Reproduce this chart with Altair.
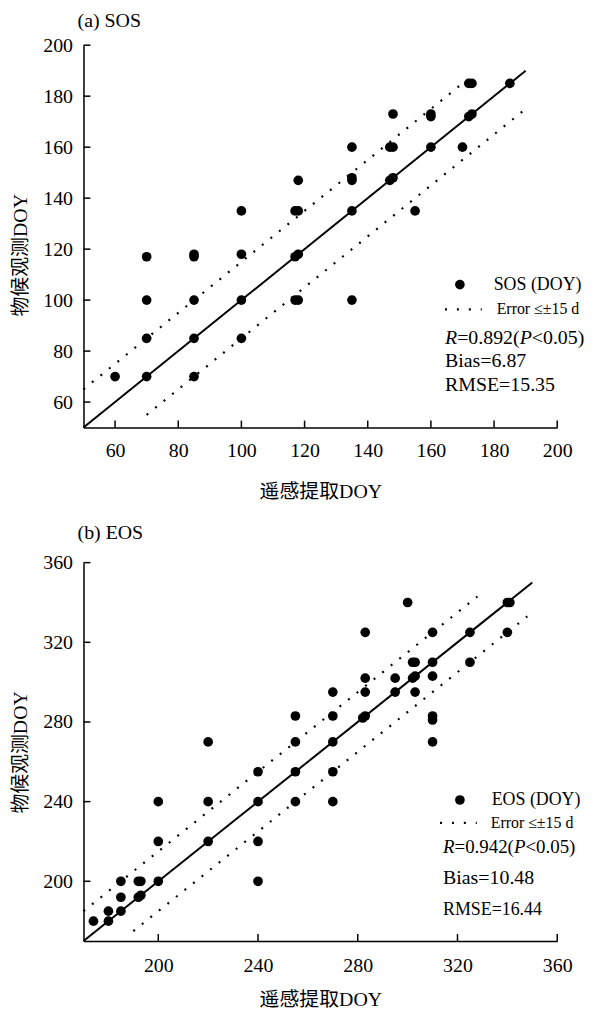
import altair as alt
import pandas as pd

FONT = "Liberation Serif, Times New Roman, Noto Sans CJK SC"

# ---------------- data: (a) SOS ----------------
sos_rs = [60, 70, 70, 70, 70, 85, 85, 85, 85, 85, 100, 100, 100, 100,
          117, 118, 117, 118, 117, 118, 118, 135, 135, 135, 135, 135,
          147, 148, 147, 148, 148, 155, 160, 160, 160, 170, 172, 173,
          172, 173, 185]
sos_obs = [70, 70, 85, 100, 117, 70, 85, 100, 117, 118, 85, 100, 118, 135,
           100, 100, 117, 118, 135, 135, 147, 100, 135, 147, 148, 160,
           147, 148, 160, 160, 173, 135, 160, 172, 173, 160, 172, 173,
           185, 185, 185]
sos_ticks = [60, 80, 100, 120, 140, 160, 180, 200]
sos_domain = [50, 200]
sos_line_x = [50, 190]
sos_line_y = [50, 190]
sos_up_x = [50, 170]
sos_up_y = [65, 185]
sos_lo_x = [70, 190]
sos_lo_y = [55, 175]
sos_stats = {"R": "0.892", "Bias": "6.87", "RMSE": "15.35"}

# ---------------- data: (b) EOS ----------------
eos_rs = [174, 180, 180, 185, 185, 185, 192, 193, 192, 193, 200, 200, 200,
          220, 220, 220, 240, 240, 240, 240, 255, 255, 255, 255,
          270, 270, 270, 270, 270, 282, 283, 283, 283, 283, 295, 295,
          300, 302, 303, 302, 303, 303, 310, 310, 310, 310, 310, 310,
          325, 325, 340, 340, 341]
eos_obs = [180, 180, 185, 185, 192, 200, 192, 193, 200, 200, 200, 220, 240,
           220, 240, 270, 200, 220, 240, 255, 240, 255, 270, 283,
           240, 255, 270, 283, 295, 282, 283, 295, 302, 325, 295, 302,
           340, 302, 303, 310, 310, 295, 270, 281, 283, 303, 310, 325,
           310, 325, 325, 340, 340]
eos_ticks = [200, 240, 280, 320, 360]
eos_domain = [170, 360]
eos_line_x = [170, 350]
eos_line_y = [170, 350]
eos_up_x = [170, 328]
eos_up_y = [185, 343]
eos_lo_x = [190, 348]
eos_lo_y = [175, 333]
eos_stats = {"R": "0.942", "Bias": "10.48", "RMSE": "16.44"}

DOT = [2, 9]
PT = 95


def one():
    return pd.DataFrame({"a": [0]})


def txt(s, x, y, size, italic=False):
    return alt.Chart(one()).mark_text(
        text=s, align="left", baseline="middle", font=FONT, fontSize=size,
        fontStyle="italic" if italic else "normal", color="black"
    ).encode(x=alt.value(x), y=alt.value(y))


def panel(rs, obs, ticks, dom, lx, ly, ux, uy, dx_, dy_, W, H, title,
          name, stats, leg, xlabpad, xtitlepad, toff, ytitleY=None):
    xs = alt.Scale(domain=dom, nice=False, zero=False)
    ys = alt.Scale(domain=dom, nice=False, zero=False)
    common = dict(ticks=False, tickSize=0, grid=False, domainColor="black",
                  domainWidth=1.5, labelFont=FONT, labelFontSize=20,
                  labelColor="black", labelFlush=False, titleFont=FONT,
                  titleFontSize=20, titleFontWeight="normal",
                  titleColor="black", values=ticks)
    xaxis = alt.Axis(title="遥感提取DOY", labelPadding=xlabpad,
                     titlePadding=xtitlepad, **common)
    yextra = {}
    if ytitleY is not None:
        yextra["titleY"] = ytitleY
    yaxis = alt.Axis(title="物候观测DOY", labelPadding=11, titlePadding=12,
                     **yextra, **common)
    X = alt.X("x:Q", scale=xs, axis=xaxis)
    Y = alt.Y("y:Q", scale=ys, axis=yaxis)

    pts = alt.Chart(pd.DataFrame({"x": rs, "y": obs})).mark_circle(
        size=PT, color="black", opacity=1).encode(x=X, y=Y)
    one2one = alt.Chart(pd.DataFrame({"x": lx, "y": ly})).mark_line(
        color="black", strokeWidth=2).encode(x=X, y=Y)
    upper = alt.Chart(pd.DataFrame({"x": ux, "y": uy})).mark_line(
        color="black", strokeWidth=2.2, strokeDash=DOT).encode(x=X, y=Y)
    lower = alt.Chart(pd.DataFrame({"x": dx_, "y": dy_})).mark_line(
        color="black", strokeWidth=2.2, strokeDash=DOT).encode(x=X, y=Y)
    xt = alt.Chart(pd.DataFrame({"x": ticks})).mark_rule(
        color="black", strokeWidth=1.5).encode(
        x=X, y=alt.value(H), y2=alt.value(H - 7))
    yt = alt.Chart(pd.DataFrame({"y": ticks})).mark_rule(
        color="black", strokeWidth=1.5).encode(
        y=Y, x=alt.value(0), x2=alt.value(7))

    # legend / annotation block
    L = leg
    bullet = alt.Chart(one()).mark_circle(size=PT, color="black",
                                          opacity=1).encode(
        x=alt.value(L["bx"]), y=alt.value(L["by"]))
    lab1 = txt(f"{name} (DOY)", L["tx"], L["by"], 18)
    dline = alt.Chart(one()).mark_rule(
        color="black", strokeWidth=2.2, strokeDash=[2, 10]).encode(
        x=alt.value(L["dx0"]), x2=alt.value(L["dx1"]), y=alt.value(L["ey"]))
    lab2 = txt("Error ≤±15 d", L["etx"], L["ey"], 16)
    fs = L["rfs"]
    x0 = L["sx"]
    r1 = txt("R", x0, L["ry"], fs, italic=True)
    r2 = txt(f"={stats['R']}(", x0 + 0.611 * fs, L["ry"], fs)
    r3 = txt("P", x0 + (0.611 + 3.147) * fs, L["ry"], fs, italic=True)
    r4 = txt("<0.05)", x0 + (0.611 + 3.147 + 0.611) * fs, L["ry"], fs)
    bias = txt(f"Bias={stats['Bias']}", x0, L["bias_y"], L["bfs"])
    rmse = txt(f"RMSE={stats['RMSE']}", x0, L["rmse_y"], L["mfs"])

    return alt.layer(
        xt, yt, one2one, upper, lower, pts,
        bullet, lab1, dline, lab2, r1, r2, r3, r4, bias, rmse
    ).properties(
        width=W, height=H,
        title=alt.TitleParams(text=title, anchor="start", frame="group",
                              dx=-6, offset=toff, font=FONT, fontSize=20,
                              fontWeight="normal", color="black"))


leg_a = dict(bx=379, by=241, tx=413, dx0=364, dx1=401, ey=266, etx=416,
             sx=364, ry=295, rfs=20, bias_y=318, bfs=20, rmse_y=342, mfs=20)
leg_b = dict(bx=379, by=239, tx=411, dx0=359, dx1=396, ey=262, etx=410,
             sx=362, ry=286, rfs=19, bias_y=318, bfs=20, rmse_y=350, mfs=18)

a = panel(sos_rs, sos_obs, sos_ticks, sos_domain, sos_line_x, sos_line_y,
          sos_up_x, sos_up_y, sos_lo_x, sos_lo_y, 477, 385, "(a) SOS", "SOS",
          sos_stats, leg_a, 13, 21, 4, ytitleY=211)
b = panel(eos_rs, eos_obs, eos_ticks, eos_domain, eos_line_x, eos_line_y,
          eos_up_x, eos_up_y, eos_lo_x, eos_lo_y, 477, 381, "(b) EOS", "EOS",
          eos_stats, leg_b, 15, 14, 10)

chart = alt.vconcat(a, b, spacing=22).properties(
    padding={"left": 3, "top": 0, "right": 5, "bottom": 0}
).configure_view(stroke=None)

chart.save("out.html", embed_options={"renderer": "svg", "actions": False})
